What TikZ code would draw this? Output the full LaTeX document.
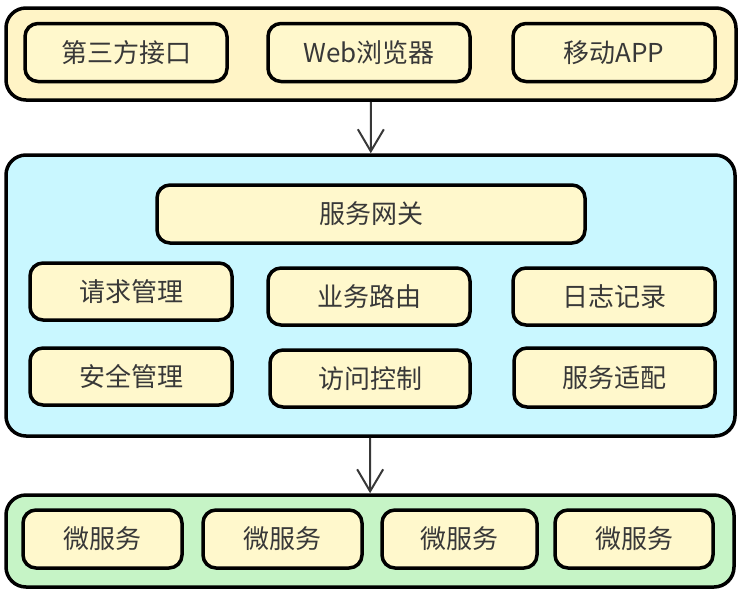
\documentclass[tikz,border=0pt]{standalone}
\usepackage{fontspec}
\setmainfont{Noto Sans CJK SC}
\usetikzlibrary{arrows.meta, shadows}
\definecolor{layerYellow}{HTML}{FFF4C6}
\definecolor{unitYellow}{HTML}{FFF8CC}
\definecolor{layerCyan}{HTML}{C9F7FF}
\definecolor{layerGreen}{HTML}{C6F4C6}
\definecolor{textGray}{HTML}{383838}
\tikzset{%
    layer/.style={rectangle, draw, line width=3.5pt, rounded corners=20pt,
    	drop shadow={shadow xshift=1.5pt, shadow yshift=-1.5pt, opacity=.3}},
    unit/.style={rectangle, draw, fill=unitYellow, line width=3.5pt,
    	rounded corners=13pt, minimum width=202pt, minimum height=58pt,
    	text=textGray, font=\fontsize{26pt}{30pt}\selectfont,
    	drop shadow={shadow xshift=1.5pt, shadow yshift=-1.5pt, opacity=.3}},
    flow/.style={draw=textGray, line width=2pt,
    	-{Straight Barb[length=22pt, width=26pt]}}
}
\begin{document}
\begin{tikzpicture}
  \useasboundingbox (0pt, 0pt) rectangle (742pt, -595pt);
  % client layer
  \node (client) [layer, fill=layerYellow, minimum width=730pt,
    minimum height=92pt] at (371pt, -54pt) {};
  \node (api) [unit] at (126pt, -52.5pt) {第三方接口};
  \node (web) [unit] at (369pt, -52.5pt) {Web浏览器};
  \node (app) [unit] at (614pt, -52.5pt) {移动APP};
  
  % gateway layer
  \node (gw) [layer, fill=layerCyan, minimum width=729pt,
    minimum height=281pt] at (370.5pt, -295.5pt) {};
  \node (gwcore) [unit, minimum width=428pt] at (371pt, -214pt) {服务网关};
  \node (req) [unit, minimum height=57pt] at (131pt, -291.5pt) {请求管理};
  \node (route) [unit, minimum height=57pt] at (369pt, -296.5pt) {业务路由};
  \node (log) [unit, minimum height=57pt] at (614pt, -296.5pt) {日志记录};
  \node (sec) [unit, minimum height=57pt] at (131pt, -376.5pt) {安全管理};
  \node (acl) [unit, minimum width=200pt, minimum height=57pt]
    at (370pt, -378.5pt) {访问控制};
  \node (adapt) [unit, minimum width=201pt, minimum height=59pt]
    at (614.5pt, -377.5pt) {服务适配};
  
  % service layer
  \node (svc) [layer, fill=layerGreen, minimum width=728pt,
    minimum height=92pt] at (370pt, -541pt) {};
  \node (ms1) [unit, minimum width=159pt] at (102.5pt, -539pt) {微服务};
  \node (ms2) [unit, minimum width=159pt] at (282.5pt, -539pt) {微服务};
  \node (ms3) [unit, minimum width=155pt] at (459.5pt, -539pt) {微服务};
  \node (ms4) [unit, minimum width=158pt] at (634pt, -539pt) {微服务};
  
  \draw [flow] (client) -- (gw);
  \draw [flow] (gw) -- (svc);
\end{tikzpicture}
\end{document}
